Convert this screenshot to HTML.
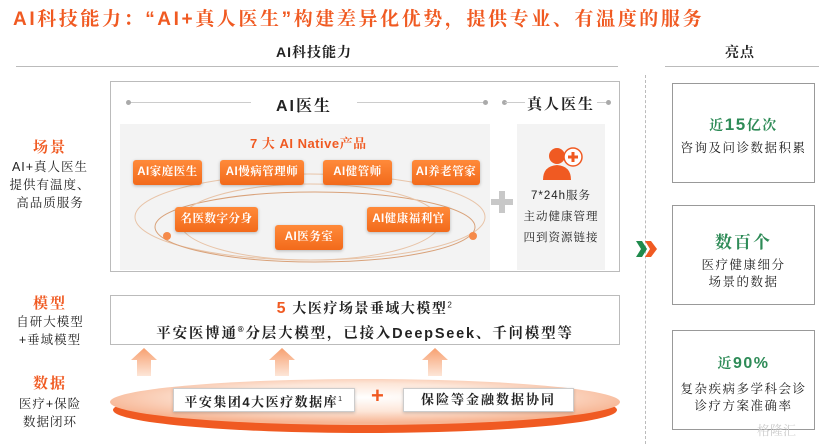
<!DOCTYPE html>
<html><head><meta charset="utf-8"><style>
*{margin:0;padding:0;box-sizing:border-box}
body{width:831px;height:444px;background:#fff;position:relative;overflow:hidden;font-family:"Liberation Sans","Noto Serif CJK SC","Noto Sans CJK SC",sans-serif;color:#222}
.a{position:absolute}
.t{white-space:nowrap}
.pill{position:absolute;height:25px;background:linear-gradient(#ff8a3a,#f26a1b);color:#fff;border-radius:3px;font-size:11.5px;font-weight:bold;text-align:center;line-height:25px;box-shadow:0 1px 3px rgba(0,0,0,.25);white-space:nowrap;letter-spacing:0.5px}
.or{color:#f05a22}
.gr{color:#2e8b57}
.rb{position:absolute;left:672px;width:143px;border:1px solid #999;text-align:center;letter-spacing:1.5px}
.c{text-align:center}
</style></head><body>
<div class="a t or" style="left:13px;top:4px;font-size:19px;font-weight:bold;letter-spacing:2.6px">AI科技能力：“AI+真人医生”构建差异化优势，提供专业、有温度的服务</div>

<div class="a t" style="left:276px;top:42px;font-size:14px;font-weight:bold;letter-spacing:1px">AI科技能力</div>
<div class="a" style="left:16px;top:66px;width:602px;height:1px;background:#bbb"></div>
<div class="a t" style="left:725px;top:42px;font-size:14px;font-weight:bold;letter-spacing:1px">亮点</div>
<div class="a" style="left:665px;top:66px;width:154px;height:1px;background:#bbb"></div>
<div class="a" style="left:645px;top:75px;height:369px;border-left:1px dashed #bbb"></div>

<!-- left labels -->
<div class="a c or" style="left:10px;top:136px;width:80px;font-size:15px;font-weight:bold;letter-spacing:2px">场景</div>
<div class="a c" style="left:0px;top:158px;width:100px;font-size:12.5px;line-height:18px;letter-spacing:1px">AI+真人医生<br>提供有温度、<br>高品质服务</div>
<div class="a c or" style="left:10px;top:292px;width:80px;font-size:15px;font-weight:bold;letter-spacing:2px">模型</div>
<div class="a c" style="left:0px;top:313px;width:100px;font-size:12.5px;line-height:18px;letter-spacing:1px">自研大模型<br>+垂域模型</div>
<div class="a c or" style="left:10px;top:372px;width:80px;font-size:15px;font-weight:bold;letter-spacing:2px">数据</div>
<div class="a c" style="left:0px;top:395px;width:100px;font-size:12.5px;line-height:18px;letter-spacing:1px">医疗+保险<br>数据闭环</div>

<!-- main box -->
<div class="a" style="left:110px;top:81px;width:510px;height:191px;border:1px solid #bbb"></div>
<div class="a" style="left:128px;top:102px;width:123px;height:1px;background:#ccc"></div>
<div class="a" style="left:126px;top:100px;width:5px;height:5px;border-radius:50%;background:#aaa"></div>
<div class="a t" style="left:276px;top:93px;font-size:16px;font-weight:bold;letter-spacing:2px">AI医生</div>
<div class="a" style="left:357px;top:102px;width:130px;height:1px;background:#ccc"></div>
<div class="a" style="left:483px;top:100px;width:5px;height:5px;border-radius:50%;background:#aaa"></div>
<div class="a" style="left:502px;top:100px;width:5px;height:5px;border-radius:50%;background:#aaa"></div>
<div class="a" style="left:505px;top:102px;width:20px;height:1px;background:#ccc"></div>
<div class="a t" style="left:527px;top:93px;font-size:15px;font-weight:bold;letter-spacing:2px">真人医生</div>
<div class="a" style="left:597px;top:102px;width:10px;height:1px;background:#ccc"></div>
<div class="a" style="left:606px;top:100px;width:5px;height:5px;border-radius:50%;background:#aaa"></div>

<div class="a" style="left:120px;top:124px;width:370px;height:146px;background:#f3f3f3"></div>
<div class="a" style="left:517px;top:124px;width:88px;height:146px;background:#f3f3f3"></div>
<svg class="a" style="left:120px;top:124px" width="370" height="146">
<ellipse cx="190" cy="93" rx="175" ry="43" fill="none" stroke="#e8c4a8" stroke-width="1"/>
<ellipse cx="195" cy="103" rx="160" ry="35" fill="none" stroke="#d9a27a" stroke-width="1"/>
<ellipse cx="190" cy="98" rx="130" ry="38" fill="none" stroke="#e8c4a8" stroke-width="1"/>
<circle cx="47" cy="112" r="4" fill="#f58a4a"/><circle cx="353" cy="112" r="4" fill="#f58a4a"/>
<circle cx="118" cy="164" r="4" fill="#f58a4a"/><circle cx="283" cy="164" r="4" fill="#f58a4a"/>
<circle cx="209" cy="179" r="4" fill="#f58a4a"/>
</svg>
<div class="a t or" style="left:250px;top:133px;font-size:13px;font-weight:bold;letter-spacing:0.5px">7 大 AI Native产品</div>
<div class="pill" style="left:133px;top:160px;width:69px">AI家庭医生</div>
<div class="pill" style="left:220px;top:160px;width:84px">AI慢病管理师</div>
<div class="pill" style="left:323px;top:160px;width:69px">AI健管师</div>
<div class="pill" style="left:412px;top:160px;width:68px">AI养老管家</div>
<div class="pill" style="left:175px;top:207px;width:83px">名医数字分身</div>
<div class="pill" style="left:275px;top:225px;width:68px">AI医务室</div>
<div class="pill" style="left:367px;top:207px;width:83px">AI健康福利官</div>
<div class="a" style="left:491px;top:199px;width:22px;height:6px;background:#c8c8c8"></div>
<div class="a" style="left:499px;top:191px;width:6px;height:22px;background:#c8c8c8"></div>
<svg class="a" style="left:542px;top:146px" width="42" height="36">
<circle cx="15" cy="10" r="8" fill="#f05a22"/>
<path d="M1 34 Q1 20 15 19 Q29 20 29 34Z" fill="#f05a22"/>
<circle cx="31" cy="11" r="9" fill="#fff" stroke="#f05a22" stroke-width="1.5"/>
<rect x="29.5" y="6" width="3" height="10" fill="#f05a22"/><rect x="26" y="9.5" width="10" height="3" fill="#f05a22"/>
</svg>
<div class="a c" style="left:517px;top:186px;width:88px;font-size:11.5px;line-height:21px;letter-spacing:1px">7*24h服务<br>主动健康管理<br>四到资源链接</div>

<!-- model box -->
<div class="a" style="left:110px;top:295px;width:510px;height:50px;border:1px solid #bbb"></div>
<div class="a t c" style="left:110px;top:298px;width:510px;font-size:14px;font-weight:bold;letter-spacing:1.5px"><span class="or" style="font-size:16px">5</span> 大医疗场景垂域大模型<sup style="font-size:8px;font-weight:normal">2</sup></div>
<div class="a t c" style="left:110px;top:322px;width:510px;font-size:14.5px;font-weight:bold;letter-spacing:1.8px">平安医博通<sup style="font-size:8px">®</sup>分层大模型，已接入DeepSeek、千问模型等</div>

<!-- arrows -->
<svg class="a" style="left:110px;top:348px" width="510" height="28">
<defs><linearGradient id="g" x1="0" y1="0" x2="0" y2="1"><stop offset="0" stop-color="#f7a070"/><stop offset="1" stop-color="#fde6d8"/></linearGradient></defs>
<g fill="url(#g)">
<path d="M34 0 L47 12 L41 12 L41 28 L27 28 L27 12 L21 12Z"/>
<path d="M172 0 L185 12 L179 12 L179 28 L165 28 L165 12 L159 12Z"/>
<path d="M325 0 L338 12 L332 12 L332 28 L318 28 L318 12 L312 12Z"/>
</g></svg>

<!-- data ellipse -->
<svg class="a" style="left:100px;top:372px" width="530" height="72">
<defs><radialGradient id="e" cx="0.5" cy="0.4" r="0.55"><stop offset="0" stop-color="#fff"/><stop offset="0.55" stop-color="#fde6d8"/><stop offset="1" stop-color="#f7b593"/></radialGradient></defs>
<ellipse cx="265" cy="38" rx="252" ry="23" fill="#f05a22"/>
<ellipse cx="265" cy="30" rx="255" ry="23" fill="url(#e)"/>
</svg>
<div class="a t" style="left:173px;top:388px;width:182px;height:24px;background:#fff;border:1px solid #ccc;box-shadow:0 1px 3px rgba(0,0,0,.2);font-size:13px;font-weight:bold;line-height:22px;text-align:center;letter-spacing:1.5px">平安集团4大医疗数据库<sup style="font-size:7px;font-weight:normal">1</sup></div>
<div class="a or" style="left:371px;top:383px;font-size:22px;font-weight:bold">+</div>
<div class="a t" style="left:403px;top:388px;width:171px;height:24px;background:#fff;border:1px solid #ccc;box-shadow:0 1px 3px rgba(0,0,0,.2);font-size:13px;font-weight:bold;line-height:22px;text-align:center;letter-spacing:2px">保险等金融数据协同</div>

<!-- chevrons -->
<svg class="a" style="left:636px;top:240px" width="22" height="18">
<path d="M0 1 L6 1 L11 9 L6 17 L0 17 L5 9Z" fill="#1f8a4c"/>
<path d="M9 1 L15 1 L21 9 L15 17 L9 17 L14 9Z" fill="#f05a22"/>
</svg>

<!-- right boxes -->
<div class="rb" style="top:83px;height:100px">
<div class="gr" style="margin-top:31px;font-size:14px;font-weight:bold">近<span style="font-size:17px">15</span>亿次</div>
<div style="margin-top:3px;font-size:12.5px">咨询及问诊数据积累</div></div>
<div class="rb" style="top:205px;height:100px">
<div class="gr" style="margin-top:22px;font-size:17px;font-weight:bold;letter-spacing:2px">数百个</div>
<div style="margin-top:4px;font-size:12.5px;line-height:17px">医疗健康细分<br>场景的数据</div></div>
<div class="rb" style="top:330px;height:100px">
<div class="gr" style="margin-top:22px;font-size:14px;font-weight:bold">近<span style="font-size:16px">90%</span></div>
<div style="margin-top:8px;font-size:12.5px;line-height:17px">复杂疾病多学科会诊<br>诊疗方案准确率</div></div>
<div class="a t" style="left:757px;top:420px;font-size:13px;color:#ccc">格隆汇</div>
</body></html>
